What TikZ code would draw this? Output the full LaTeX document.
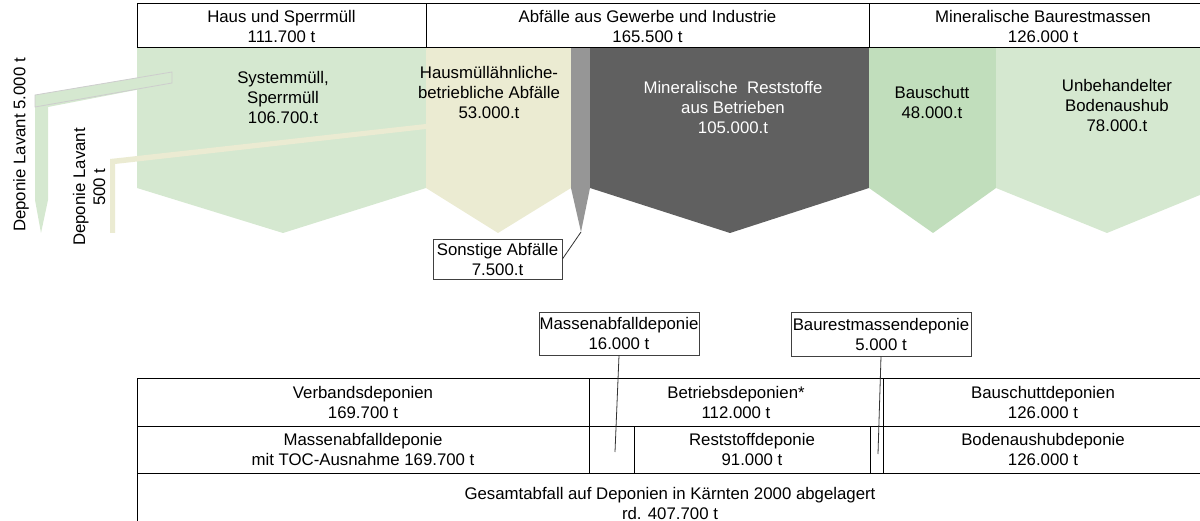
\documentclass[tikz,border=0pt]{standalone}
\usepackage{fontspec}
\setmainfont{Liberation Sans}
\definecolor{lgreen}{RGB}{213,232,208}
\definecolor{mgreen}{RGB}{193,222,188}
\definecolor{lyellow}{RGB}{235,235,210}
\definecolor{mgrey}{RGB}{150,150,150}
\definecolor{dgrey}{RGB}{96,96,96}
\definecolor{bandline}{RGB}{205,205,205}
\begin{document}
\begin{tikzpicture}[x=1pt,y=-1pt,
  every node/.style={font=\fontsize{16.8}{20}\selectfont, align=center, inner sep=0pt},
  cellbox/.style={draw=black, line width=1pt},
  calloutbox/.style={draw=black!75, line width=0.9pt},
  leader/.style={draw=black!80, line width=0.8pt}]
\useasboundingbox (0,0) rectangle (1200,521);
\clip (0,0) rectangle (1200,521);
% flow arrows
\fill[lgreen] (137,48) -- (426,48) -- (426,188) -- (283,233) -- (137,188) -- cycle;
\fill[lyellow] (426,48) -- (571,48) -- (571,188) -- (498,233) -- (426,188) -- cycle;
\fill[mgrey] (571,48) -- (590,48) -- (590,188) -- (581,232) -- (571,188) -- cycle;
\fill[dgrey] (590,48) -- (869,48) -- (869,188) -- (730,233) -- (590,188) -- cycle;
\fill[mgreen] (869,48) -- (996,48) -- (996,188) -- (933,233) -- (869,188) -- cycle;
\fill[lgreen] (996,48) -- (1217,48) -- (1217,188) -- (1107,233) -- (996,188) -- cycle;
% Lavant bands
\fill[lgreen] (172,72) -- (35,95) -- (35,200) -- (41,233) -- (48,200) -- (48,107) -- (172,83) -- cycle;
\draw[bandline, line width=0.8pt] (172,72) -- (35,95) -- (35,107) -- (172,83) -- cycle;
\fill[lyellow] (426,124) -- (110,159) -- (110,233) -- (115,233) -- (115,164) -- (426,129) -- cycle;
% headers
\node[cellbox, minimum width=289pt, minimum height=44pt] (h1) at (281.5,26) {Haus und Sperrmüll\\111.700 t};
\node[cellbox, minimum width=443pt, minimum height=44pt] (h2) at (647.5,26) {Abfälle aus Gewerbe und Industrie\\165.500 t};
\node[cellbox, minimum width=348pt, minimum height=44pt] (h3) at (1043,26) {Mineralische Baurestmassen\\126.000 t};
% flow labels
\node (sys) at (283,97) {Systemmüll,\\Sperrmüll\\106.700.t};
\node (haus) at (489,92) {Hausmüllähnliche-\\betriebliche Abfälle\\53.000.t};
\node[text=white] (mrs) at (733,107) {Mineralische\ \ Reststoffe\\aus Betrieben\\105.000.t};
\node (bs) at (932,102) {Bauschutt\\48.000.t};
\node (ub) at (1117,105) {Unbehandelter\\Bodenaushub\\78.000.t};
\node[rotate=90] (lav1) at (21,145) {Deponie Lavant 5.000 t};
\node[rotate=90] (lav2) at (89,187) {Deponie Lavant\\500 t};
% Sonstige
\node[calloutbox, minimum width=129pt, minimum height=40pt] (son) at (497.5,259) {Sonstige Abfälle\\7.500.t};
\coordinate (greytip) at (581,232);
\draw[leader] (son.east) -- (greytip);
% callouts
\node[calloutbox, minimum width=160pt, minimum height=43pt] (ma) at (619,333.5) {Massenabfalldeponie\\16.000 t};
\node[calloutbox, minimum width=180pt, minimum height=44pt] (br) at (881,334) {Baurestmassendeponie\\5.000 t};
% bottom table
\node[cellbox, minimum width=452pt, minimum height=47pt] (vb) at (363,402.5) {Verbandsdeponien\\169.700 t};
\node[cellbox, minimum width=294pt, minimum height=47pt] (bd) at (736,402.5) {Betriebsdeponien*\\112.000 t};
\node[cellbox, minimum width=320pt, minimum height=47pt] (bsd) at (1043,402.5) {Bauschuttdeponien\\126.000 t};
\node[cellbox, minimum width=452pt, minimum height=47pt] (mad) at (363,449.5) {Massenabfalldeponie\\mit TOC-Ausnahme 169.700 t};
\node[cellbox, minimum width=45pt, minimum height=47pt] (e1) at (611.5,449.5) {};
\node[cellbox, minimum width=236pt, minimum height=47pt] (rsd) at (752,449.5) {Reststoffdeponie\\91.000 t};
\node[cellbox, minimum width=13pt, minimum height=47pt] (e2) at (876.5,449.5) {};
\node[cellbox, minimum width=320pt, minimum height=47pt] (bad) at (1043,449.5) {Bodenaushubdeponie\\126.000 t};
\node[cellbox, minimum width=1066pt, minimum height=60pt] (ges) at (670,503) {Gesamtabfall auf Deponien in Kärnten 2000 abgelagert\\rd. 407.700 t};
\coordinate (mtip) at (615,452);
\coordinate (btip) at (878,454);
\draw[leader] (ma.south) -- (mtip);
\draw[leader] (br.south) -- (btip);
\end{tikzpicture}
\end{document}
